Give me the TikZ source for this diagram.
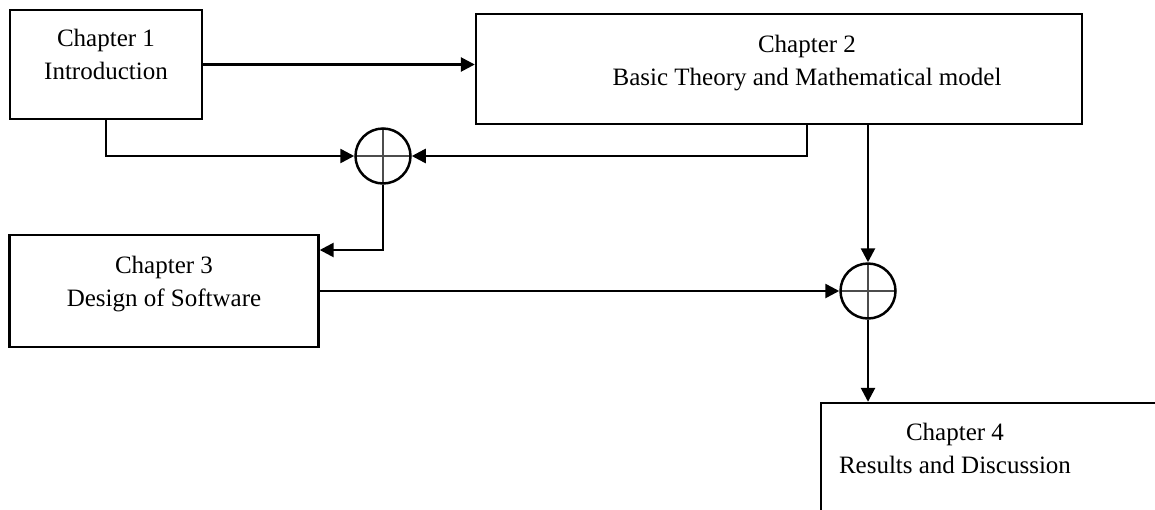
\documentclass[tikz,border=0pt]{standalone}
\usepackage{fontspec}
\setmainfont{Liberation Serif}
\usetikzlibrary{arrows.meta,positioning}

\begin{document}
\begin{tikzpicture}[x=1pt, y=-1pt, >={Triangle[length=14pt,width=14pt]},
		chapbox/.style={draw, line width=2.4pt, inner sep=0pt},
		chaptext/.style={anchor=north, align=center, inner sep=0pt, font=\fontsize{25}{33}\selectfont},
		junction/.style={circle, draw, line width=2.5pt, minimum size=55pt, inner sep=0pt,
				path picture={\draw[line width=1.1pt, black!70]
						(path picture bounding box.north) -- (path picture bounding box.south)
						(path picture bounding box.west) -- (path picture bounding box.east);}},
		flow/.style={->, line width=2.6pt}]
	\clip (0,0) rectangle (1155,509);
	% chapters
	\node[chapbox, minimum width=192pt, minimum height=109pt] (ch1) at (106,64.5) {};
	\node[chapbox, minimum width=606pt, minimum height=110pt] (ch2) at (779,69) {};
	\node[chapbox, minimum width=309pt, minimum height=112pt] (ch3) at (164,291) {};
	\node[chapbox, minimum width=380pt, minimum height=130pt] (ch4) at (1011,468) {};
	\node[chaptext] (ch1 text) at ([yshift=-20pt]ch1.north) {Chapter 1\\Introduction};
	\node[chaptext] (ch2 text) at ([xshift=28pt, yshift=-22pt]ch2.north) {Chapter 2\\Basic Theory and Mathematical model};
	\node[chaptext] (ch3 text) at ([yshift=-22pt]ch3.north) {Chapter 3\\Design of Software};
	\node[chaptext] (ch4 text) at ([xshift=-56pt, yshift=-21pt]ch4.north) {Chapter 4\\Results and Discussion};
	% summing points
	\node[junction] (sum1) at (383,156) {};
	\node[junction] (sum2) at (868,291) {};
	% connectors
	\draw[flow] (ch1) -- (ch1 -| ch2.west);
	\draw[flow] (ch1.south) |- (sum1.west);
	\draw[flow] ([xshift=28pt]ch2.south) |- (sum1.east);
	\draw[flow] (sum1.south) |- ([yshift=41pt]ch3.east);
	\draw[flow] (ch3) -- (sum2);
	\draw[flow] (sum2 |- ch2.south) -- (sum2.north);
	\draw[flow] (sum2.south) -- (sum2 |- ch4.north);
\end{tikzpicture}
\end{document}
